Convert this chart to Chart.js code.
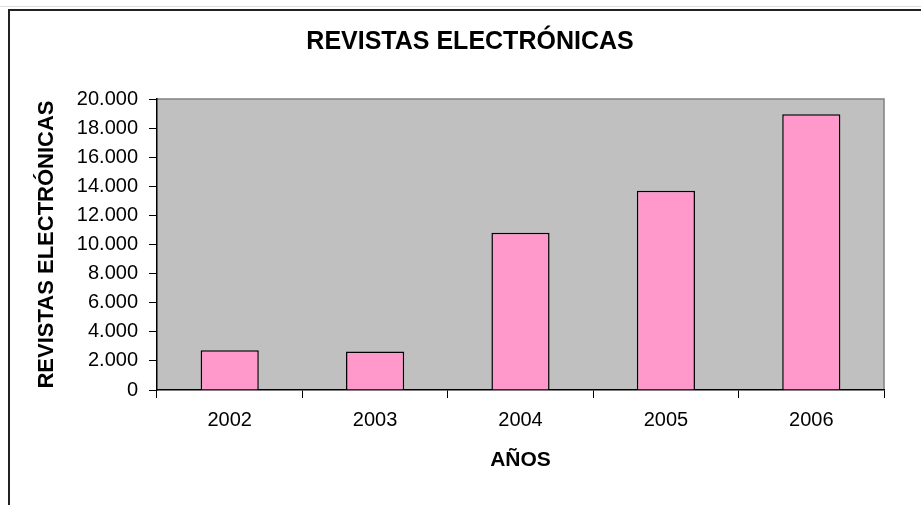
<!DOCTYPE html>
<html>
<head>
<meta charset="utf-8">
<script src="https://cdn.jsdelivr.net/npm/chart.js@4/dist/chart.umd.min.js"></script>
<style>
  html, body { margin: 0; padding: 0; background: #fff; overflow: hidden; width: 921px; height: 505px; }
  #frame { position: absolute; left: 8px; top: 9px; width: 940px; height: 520px; border-left: 2px solid #222; border-top: 2px solid #222; }
  #shadow { position: absolute; left: 0; top: 6px; width: 921px; height: 0; border-top: 1px solid #ddd; }
  #wrap { position: absolute; left: 0; top: 0; width: 921px; height: 505px; }
</style>
</head>
<body>
<div id="shadow"></div>
<div id="frame"></div>
<div id="wrap"><canvas id="c" width="921" height="505"></canvas></div>
<script>
const chartTitle = 'REVISTAS ELECTRÓNICAS';
const yAxisTitle = 'REVISTAS ELECTRÓNICAS';
const xAxisTitle = 'AÑOS';
const categories = ['2002', '2003', '2004', '2005', '2006'];
const revistas = [2730, 2640, 10800, 13700, 18950];
const yTickLabels = ['0', '2.000', '4.000', '6.000', '8.000', '10.000', '12.000', '14.000', '16.000', '18.000', '20.000'];

const FONT = '"Liberation Sans", Arial, sans-serif';

const plotBg = {
  id: 'plotBg',
  beforeDraw(chart) {
    const {ctx, chartArea: a} = chart;
    ctx.save();
    ctx.fillStyle = '#C0C0C0';
    ctx.fillRect(a.left, a.top, a.right - a.left, a.bottom - a.top);
    ctx.strokeStyle = '#808080';
    ctx.lineWidth = 1.5;
    ctx.beginPath();
    ctx.moveTo(a.left, a.top);
    ctx.lineTo(a.right, a.top);
    ctx.lineTo(a.right, a.bottom);
    ctx.stroke();
    ctx.restore();
  }
};

const topTitle = {
  id: 'topTitle',
  afterDraw(chart) {
    const ctx = chart.ctx;
    ctx.save();
    ctx.font = 'bold 25px ' + FONT;
    ctx.fillStyle = '#000';
    ctx.textAlign = 'center';
    ctx.textBaseline = 'middle';
    ctx.fillText(chartTitle, 470, 42);
    ctx.restore();
  }
};

new Chart(document.getElementById('c'), {
  type: 'bar',
  data: {
    labels: categories,
    datasets: [{
      label: yAxisTitle,
      data: revistas,
      backgroundColor: '#FF99CC',
      borderColor: '#000000',
      borderWidth: 1.5,
      barPercentage: 0.4,
      categoryPercentage: 1.0
    }]
  },
  options: {
    responsive: false,
    animation: false,
    layout: { padding: { left: 34, right: 37, top: 99, bottom: 32 } },
    plugins: {
      legend: { display: false },
      title: { display: false, text: chartTitle },
      tooltip: { enabled: false }
    },
    scales: {
      x: {
        offset: true,
        grid: { offset: true, drawOnChartArea: false, drawTicks: true, tickLength: 8, color: '#000', lineWidth: 1 },
        border: { color: '#000', width: 1.5 },
        ticks: { color: '#000', padding: 10, font: { family: FONT, size: 20 } },
        title: { display: true, text: xAxisTitle, color: '#000', padding: 0, font: { family: FONT, size: 21, weight: 'bold' } },
        afterFit(scale) { scale.height = 83; }
      },
      y: {
        min: 0, max: 20000,
        grid: { drawOnChartArea: false, drawTicks: true, tickLength: 8, color: '#000', lineWidth: 1 },
        border: { color: '#000', width: 1.5 },
        ticks: {
          stepSize: 2000, color: '#000', padding: 11,
          font: { family: FONT, size: 20 },
          callback: (v, i) => yTickLabels[i]
        },
        title: { display: true, text: yAxisTitle, color: '#000', padding: 0, font: { family: FONT, size: 22, weight: 'bold' } },
        afterFit(scale) { scale.width = 123; }
      }
    }
  },
  plugins: [plotBg, topTitle]
});
</script>
</body>
</html>
